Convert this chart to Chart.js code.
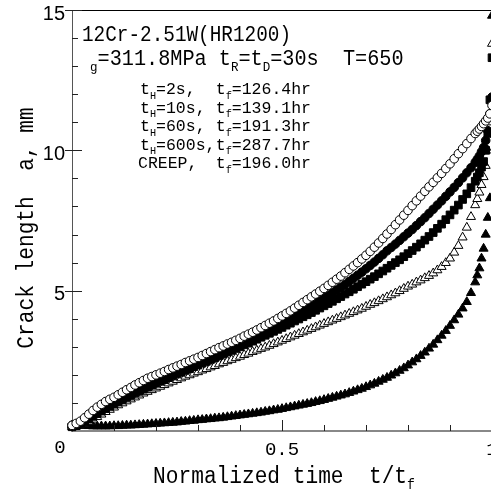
<!DOCTYPE html>
<html lang="en">
<head>
  <meta charset="UTF-8">
  <title>Crack length vs normalized time</title>
  <script src="https://cdn.jsdelivr.net/npm/chart.js"></script>
  <style>
    html, body { margin: 0; padding: 0; background: #fff; overflow: hidden; }
    #wrap { position: relative; width: 500px; height: 490px; }
  </style>
</head>
<body>
  <div id="wrap"><canvas id="crackChart"></canvas></div>

  <script>
    // normalized time t/tf, shared by every series
    const tValues = [
      0.00, 0.01, 0.02, 0.03, 0.04, 0.05, 0.06, 0.07, 0.08, 0.09,
      0.10, 0.11, 0.12, 0.13, 0.14, 0.15, 0.16, 0.17, 0.18, 0.19,
      0.20, 0.21, 0.22, 0.23, 0.24, 0.25, 0.26, 0.27, 0.28, 0.29,
      0.30, 0.31, 0.32, 0.33, 0.34, 0.35, 0.36, 0.37, 0.38, 0.39,
      0.40, 0.41, 0.42, 0.43, 0.44, 0.45, 0.46, 0.47, 0.48, 0.49,
      0.50, 0.51, 0.52, 0.53, 0.54, 0.55, 0.56, 0.57, 0.58, 0.59,
      0.60, 0.61, 0.62, 0.63, 0.64, 0.65, 0.66, 0.67, 0.68, 0.69,
      0.70, 0.71, 0.72, 0.73, 0.74, 0.75, 0.76, 0.77, 0.78, 0.79,
      0.80, 0.81, 0.82, 0.83, 0.84, 0.85, 0.86, 0.87, 0.88, 0.89,
      0.90, 0.91, 0.92, 0.93, 0.94, 0.95, 0.96,
      0.965, 0.97, 0.975, 0.98, 0.985, 0.99, 0.995, 1.0];

    // crack length a (mm)
    const crack2s = [
      0.2, 0.27, 0.35, 0.47, 0.6, 0.73, 0.85, 0.95, 1.05, 1.13,
      1.2, 1.29, 1.38, 1.47, 1.55, 1.64, 1.72, 1.8, 1.88, 1.94,
      2.0, 2.06, 2.12, 2.19, 2.25, 2.31, 2.37, 2.44, 2.5, 2.56,
      2.62, 2.69, 2.76, 2.83, 2.9, 2.97, 3.03, 3.1, 3.16, 3.23,
      3.3, 3.38, 3.45, 3.52, 3.6, 3.68, 3.76, 3.84, 3.92, 4.01,
      4.1, 4.19, 4.28, 4.38, 4.48, 4.58, 4.68, 4.78, 4.88, 4.98,
      5.08, 5.19, 5.3, 5.41, 5.52, 5.64, 5.76, 5.88, 6.0, 6.13,
      6.26, 6.4, 6.55, 6.7, 6.86, 7.02, 7.18, 7.35, 7.52, 7.69,
      7.86, 8.03, 8.2, 8.37, 8.54, 8.7, 8.86, 9.02, 9.18, 9.35,
      9.52, 9.7, 9.88, 10.06, 10.24, 10.42, 10.6,
      10.68, 10.76, 10.85, 10.95, 11.05, 11.15, 11.3, 11.6];
    const crack10s = [
      0.2, 0.24, 0.3, 0.4, 0.5, 0.61, 0.72, 0.82, 0.92, 1.0,
      1.08, 1.16, 1.24, 1.32, 1.4, 1.48, 1.55, 1.63, 1.7, 1.76,
      1.82, 1.89, 1.95, 2.01, 2.07, 2.14, 2.2, 2.26, 2.32, 2.38,
      2.44, 2.5, 2.57, 2.63, 2.7, 2.76, 2.83, 2.9, 2.96, 3.03,
      3.1, 3.17, 3.24, 3.31, 3.38, 3.45, 3.53, 3.6, 3.68, 3.76,
      3.84, 3.92, 4.0, 4.09, 4.18, 4.27, 4.36, 4.45, 4.54, 4.63,
      4.72, 4.82, 4.92, 5.02, 5.12, 5.22, 5.33, 5.44, 5.55, 5.66,
      5.78, 5.9, 6.02, 6.15, 6.28, 6.42, 6.54, 6.66, 6.79, 6.92,
      7.05, 7.18, 7.32, 7.46, 7.6, 7.75, 7.9, 8.05, 8.2, 8.36,
      8.52, 8.68, 8.85, 9.02, 9.2, 9.38, 9.57,
      9.68, 9.8, 9.95, 10.1, 10.35, 10.7, 11.3, 11.9];
    const crack60s = [
      0.15, 0.19, 0.25, 0.33, 0.42, 0.52, 0.62, 0.71, 0.8, 0.88,
      0.96, 1.04, 1.12, 1.2, 1.27, 1.35, 1.42, 1.49, 1.56, 1.63,
      1.7, 1.77, 1.83, 1.9, 1.96, 2.03, 2.09, 2.16, 2.22, 2.29,
      2.35, 2.42, 2.48, 2.55, 2.61, 2.68, 2.74, 2.81, 2.87, 2.94,
      3.0, 3.07, 3.13, 3.2, 3.27, 3.34, 3.41, 3.48, 3.55, 3.62,
      3.69, 3.77, 3.84, 3.92, 3.99, 4.07, 4.14, 4.22, 4.3, 4.38,
      4.46, 4.54, 4.62, 4.71, 4.79, 4.88, 4.96, 5.05, 5.14, 5.23,
      5.32, 5.41, 5.5, 5.6, 5.7, 5.8, 5.9, 6.0, 6.1, 6.21,
      6.32, 6.43, 6.55, 6.67, 6.8, 6.93, 7.07, 7.22, 7.37, 7.53,
      7.7, 7.87, 8.05, 8.25, 8.45, 8.67, 8.9,
      9.05, 9.2, 9.4, 9.6, 10.0, 10.6, 11.8, 13.3];
    const crack600s = [
      0.15, 0.17, 0.2, 0.25, 0.32, 0.41, 0.5, 0.59, 0.68, 0.76,
      0.84, 0.92, 0.99, 1.06, 1.13, 1.2, 1.27, 1.34, 1.4, 1.46,
      1.52, 1.58, 1.64, 1.7, 1.76, 1.82, 1.88, 1.94, 1.99, 2.05,
      2.1, 2.16, 2.21, 2.27, 2.32, 2.38, 2.43, 2.49, 2.54, 2.6,
      2.65, 2.71, 2.76, 2.82, 2.87, 2.93, 2.98, 3.04, 3.1, 3.16,
      3.22, 3.28, 3.34, 3.4, 3.46, 3.52, 3.58, 3.64, 3.7, 3.76,
      3.82, 3.88, 3.94, 4.0, 4.06, 4.12, 4.18, 4.24, 4.3, 4.36,
      4.43, 4.5, 4.56, 4.63, 4.7, 4.77, 4.84, 4.91, 4.99, 5.07,
      5.15, 5.22, 5.3, 5.37, 5.45, 5.53, 5.62, 5.73, 5.85, 5.99,
      6.15, 6.36, 6.6, 6.9, 7.25, 7.63, 8.05,
      8.27, 8.5, 8.77, 9.05, 9.45, 10.0, 11.0, 13.8];
    const crackCreep = [
      0.2, 0.2, 0.2, 0.19, 0.18, 0.17, 0.17, 0.17, 0.17, 0.17,
      0.18, 0.18, 0.19, 0.2, 0.2, 0.21, 0.22, 0.23, 0.24, 0.25,
      0.26, 0.27, 0.28, 0.29, 0.3, 0.31, 0.33, 0.34, 0.36, 0.37,
      0.39, 0.4, 0.42, 0.43, 0.45, 0.46, 0.48, 0.5, 0.52, 0.54,
      0.56, 0.58, 0.6, 0.62, 0.64, 0.66, 0.69, 0.71, 0.74, 0.76,
      0.79, 0.82, 0.85, 0.88, 0.91, 0.94, 0.97, 1.0, 1.04, 1.07,
      1.11, 1.15, 1.19, 1.23, 1.27, 1.31, 1.36, 1.41, 1.46, 1.51,
      1.57, 1.63, 1.69, 1.76, 1.83, 1.9, 1.98, 2.06, 2.15, 2.24,
      2.34, 2.45, 2.56, 2.68, 2.8, 2.94, 3.08, 3.24, 3.4, 3.57,
      3.75, 3.95, 4.15, 4.37, 4.6, 4.92, 5.3,
      5.55, 5.8, 6.15, 6.5, 7.0, 7.6, 8.3, 14.8];

    const xMinorTicks = [0.1, 0.2, 0.3, 0.4, 0.6, 0.7, 0.8, 0.9];
    const xMajorTicks = [0.5];
    const yMinorTicks = [1, 2, 3, 4, 6, 7, 8, 9, 11, 12, 13, 14];
    const yMajorTicks = [5, 10, 15];

    const legendRows = [
      { left: [['t'], ['H', 1], ['=2s,']], tf: '=126.4hr' },
      { left: [['t'], ['H', 1], ['=10s,']], tf: '=139.1hr' },
      { left: [['t'], ['H', 1], ['=60s,']], tf: '=191.3hr' },
      { left: [['t'], ['H', 1], ['=600s,']], tf: '=287.7hr' },
      { left: [['CREEP,']], tf: '=196.0hr' }
    ];

    const MONO = '"Liberation Mono", "DejaVu Sans Mono", monospace';
    const SANS = '"Liberation Sans", Arial, sans-serif';

    const toPoints = (ys) => tValues.map((t, i) => ({ x: t, y: ys[i] }));

    // text with subscripts; runs = [[text, isSub], ...]
    function drawRuns(ctx, runs, x, y, size, family, sx, align) {
      const subSize = size * 0.62;
      let total = 0;
      const parts = runs.map(([txt, sub]) => {
        ctx.font = (sub ? subSize : size) + 'px ' + family;
        const w = ctx.measureText(txt).width * sx;
        total += w;
        return { txt, sub, w };
      });
      let cx = x;
      if (align === 'center') cx = x - total / 2;
      if (align === 'right') cx = x - total;
      parts.forEach(p => {
        ctx.save();
        ctx.font = (p.sub ? subSize : size) + 'px ' + family;
        ctx.translate(cx, y + (p.sub ? size * 0.28 : 0));
        ctx.scale(sx, 1);
        ctx.textAlign = 'left';
        ctx.textBaseline = 'alphabetic';
        ctx.fillText(p.txt, 0, 0);
        ctx.restore();
        cx += p.w;
      });
    }

    const decorPlugin = {
      id: 'decor',
      afterDraw(chart) {
        const { ctx, chartArea: area } = chart;
        const xs = chart.scales.x, ys = chart.scales.y;
        ctx.save();

        // frame top line
        ctx.strokeStyle = '#000';
        ctx.lineWidth = 1;
        ctx.beginPath();
        ctx.moveTo(area.left - 1, area.top + 0.5);
        ctx.lineTo(area.right + 10, area.top + 0.5);
        ctx.stroke();

        // inward ticks
        ctx.strokeStyle = '#222';
        ctx.beginPath();
        xMinorTicks.forEach(v => {
          const px = Math.round(xs.getPixelForValue(v)) + 0.5;
          ctx.moveTo(px, area.bottom);
          ctx.lineTo(px, area.bottom - 6);
        });
        xMajorTicks.forEach(v => {
          const px = Math.round(xs.getPixelForValue(v)) + 0.5;
          ctx.moveTo(px, area.bottom);
          ctx.lineTo(px, area.bottom - 11);
        });
        yMinorTicks.forEach(v => {
          const py = Math.round(ys.getPixelForValue(v)) + 0.5;
          ctx.moveTo(area.left, py);
          ctx.lineTo(area.left + 6, py);
        });
        yMajorTicks.forEach(v => {
          const py = Math.round(ys.getPixelForValue(v)) + 0.5;
          ctx.moveTo(area.left - 7, py);
          ctx.lineTo(area.left + 10, py);
        });
        ctx.stroke();

        ctx.fillStyle = '#000';
        // origin label
        drawRuns(ctx, [['0']], xs.getPixelForValue(0) - 12, area.bottom + 22, 19, MONO, 1, 'center');

        // axis titles
        drawRuns(ctx, [['Normalized time  t/t'], ['f', 1]], 284, 483, 23, MONO, 0.92, 'center');
        ctx.save();
        ctx.translate(33, 228);
        ctx.rotate(-Math.PI / 2);
        drawRuns(ctx, [['Crack length  a, mm']], 0, 0, 23, MONO, 0.92, 'center');
        ctx.restore();

        // annotations
        drawRuns(ctx, [['12Cr-2.51W(HR1200)']], 82, 41, 21.5, MONO, 0.9, 'left');
        drawRuns(ctx, [['g', 1], ['=311.8MPa t'], ['R', 1], ['=t'], ['D', 1], ['=30s  T=650']],
          90, 65, 21.5, MONO, 0.94, 'left');
        legendRows.forEach((row, i) => {
          const base = 94 + i * 18.6;
          drawRuns(ctx, row.left, i === 4 ? 138 : 140, base, 16.5, MONO, 1, 'left');
          drawRuns(ctx, [['t'], ['f', 1], [row.tf]], 311, base, 16.5, MONO, 1, 'right');
        });
        ctx.restore();
      }
    };

    const ctx = document.getElementById('crackChart').getContext('2d');
    const chart = new Chart(ctx, {
      type: 'scatter',
      data: {
        datasets: [
          { label: 'tH=2s', data: toPoints(crack2s), pointStyle: 'circle', pointRadius: 4.3,
            backgroundColor: '#fff', borderColor: '#000', borderWidth: 1, clip: false },
          { label: 'tH=10s', data: toPoints(crack10s), pointStyle: 'circle', pointRadius: 4.3,
            backgroundColor: '#000', borderColor: '#000', borderWidth: 1, clip: false },
          { label: 'tH=60s', data: toPoints(crack60s), pointStyle: 'rect', pointRadius: 5.4,
            backgroundColor: '#000', borderColor: '#000', borderWidth: 1, clip: false },
          { label: 'tH=600s', data: toPoints(crack600s), pointStyle: 'triangle', pointRadius: 5.2,
            backgroundColor: '#fff', borderColor: '#000', borderWidth: 1, clip: false },
          { label: 'CREEP', data: toPoints(crackCreep), pointStyle: 'triangle', pointRadius: 5.2,
            backgroundColor: '#000', borderColor: '#000', borderWidth: 1, clip: false }
        ]
      },
      options: {
        responsive: true,
        maintainAspectRatio: false,
        devicePixelRatio: 1,
        animation: false,
        events: [],
        layout: { padding: { top: 10, right: 8, left: 0, bottom: 0 } },
        plugins: { legend: { display: false }, tooltip: { enabled: false } },
        scales: {
          x: {
            type: 'linear', min: 0, max: 1,
            grid: { display: false, drawTicks: false },
            border: { display: true, color: '#888', width: 2 },
            ticks: {
              stepSize: 0.5, padding: 8, color: '#000',
              font: { family: MONO, size: 19 },
              maxRotation: 0,
              callback: v => (v === 0 ? '' : String(v))
            },
            afterFit: s => { s.height = 59; s.paddingLeft = 0; s.paddingRight = 0; }
          },
          y: {
            min: 0, max: 15,
            grid: { display: false, drawTicks: false },
            border: { display: true, color: '#555', width: 1 },
            ticks: {
              stepSize: 5, padding: 7, color: '#000', labelOffset: 4,
              font: { family: SANS, size: 20 },
              callback: v => (v === 0 ? '' : String(v))
            },
            afterFit: s => { s.width = 72; s.paddingTop = 0; s.paddingBottom = 0; }
          }
        }
      },
      plugins: [decorPlugin]
    });
  </script>
</body>
</html>
